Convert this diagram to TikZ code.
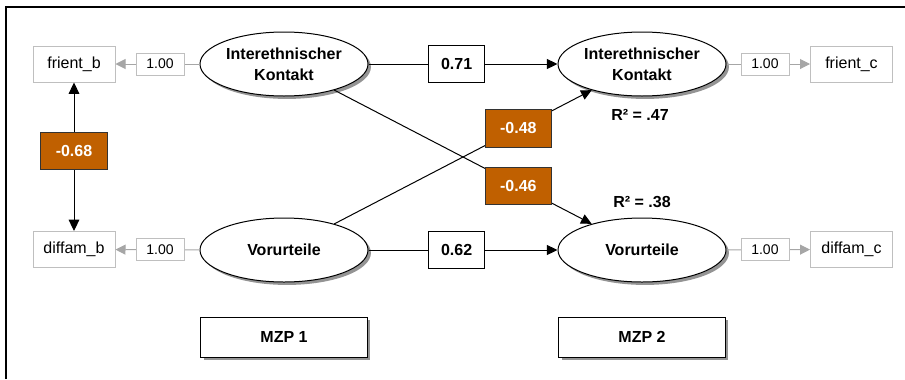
\documentclass[tikz,border=0pt]{standalone}
\usepackage{fontspec}
\setmainfont{Liberation Sans}
\usetikzlibrary{arrows.meta,shapes.geometric,shadows}
\definecolor{rust}{HTML}{C06000}
\definecolor{lgray}{HTML}{BFBFBF}
\definecolor{agray}{HTML}{A6A6A6}
\begin{document}
\begin{tikzpicture}[x=0.75pt,y=-0.75pt,
  shadowed/.style={drop shadow={shadow xshift=2.2pt, shadow yshift=-2.2pt, fill=black!42, opacity=1}},
  latent/.style={ellipse, draw, fill=white, line width=0.75pt, minimum width=126pt, minimum height=48pt, inner sep=0pt, align=center, font=\bfseries\fontsize{12}{15.75}\selectfont, shadowed},
  indic/.style={draw=lgray, fill=white, line width=0.75pt, minimum width=61.5pt, minimum height=27pt, inner sep=0pt, font=\fontsize{12}{14}\selectfont},
  loadbox/.style={draw=lgray, fill=white, line width=0.6pt, minimum width=36pt, minimum height=16.5pt, inner sep=0pt, font=\fontsize{10.5}{12}\selectfont},
  coefbox/.style={draw, fill=white, line width=0.9pt, minimum width=42pt, minimum height=27.75pt, inner sep=0pt, font=\bfseries\fontsize{12}{14}\selectfont},
  negbox/.style={draw=black!80, fill=rust, text=white, line width=0.6pt, minimum width=50pt, minimum height=28pt, inner sep=0pt, font=\bfseries\fontsize{12}{14}\selectfont},
  wavebox/.style={draw, fill=white, line width=0.75pt, minimum width=125pt, minimum height=30pt, inner sep=0pt, font=\bfseries\fontsize{12}{14}\selectfont, shadowed},
  rlabel/.style={font=\bfseries\fontsize{12}{14}\selectfont, inner sep=0pt},
  conn/.style={line width=0.75pt, -{Triangle[length=8pt,width=7.5pt]}},
  dconn/.style={line width=0.75pt, {Triangle[length=8.5pt,width=8pt]}-{Triangle[length=8.5pt,width=8pt]}},
  gconn/.style={draw=agray, line width=0.75pt, -{Triangle[length=7.5pt,width=7.5pt]}}
]
\useasboundingbox (0,0) rectangle (905,379);
% frame
\draw[line width=1.5pt, line join=miter] (6,379) -- (6,7) -- (905,7);

% latent variables
\node[latent] (Kl) at (284,64) {Interethnischer\\Kontakt};
\node[latent] (Kr) at (642,64) {Interethnischer\\Kontakt};
\node[latent] (Vl) at (284,250) {Vorurteile};
\node[latent] (Vr) at (642,250) {Vorurteile};

% indicators
\node[indic] (fb) at (74,64) {frient\_b};
\node[indic] (db) at (74,249.5) {diffam\_b};
\node[indic] (fc) at (851.5,64) {frient\_c};
\node[indic] (dc) at (851.5,249.5) {diffam\_c};

% loadings
\draw[gconn] (Kl) -- node[loadbox, pos=0.47] (w1) {1.00} (fb);
\draw[gconn] (Vl) -- node[loadbox, pos=0.47] (w2) {1.00} (db);
\draw[gconn] (Kr) -- node[loadbox, pos=0.46] (w3) {1.00} (fc);
\draw[gconn] (Vr) -- node[loadbox, pos=0.46] (w4) {1.00} (dc);

% paths
\draw[conn] (Kl) -- node[coefbox, pos=0.466] (b071) {0.71} (Kr);
\draw[conn] (Vl) -- node[coefbox, pos=0.466] (b062) {0.62} (Vr);
\draw[conn] (Kl) -- node[negbox, pos=0.715] (m46) {-0.46} (Vr);
\draw[conn] (Vl) -- node[negbox, pos=0.715] (m48) {-0.48} (Kr);
\draw[dconn] (fb) -- node[negbox, pos=0.46] (m68) {-0.68} (db);

% R squared
\node[rlabel] (r47) at (640,115) {R² = .47};
\node[rlabel] (r38) at (642,202) {R² = .38};

% time points
\node[wavebox] (mzp1) at (284,337) {MZP 1};
\node[wavebox] (mzp2) at (642,337) {MZP 2};
\end{tikzpicture}
\end{document}
